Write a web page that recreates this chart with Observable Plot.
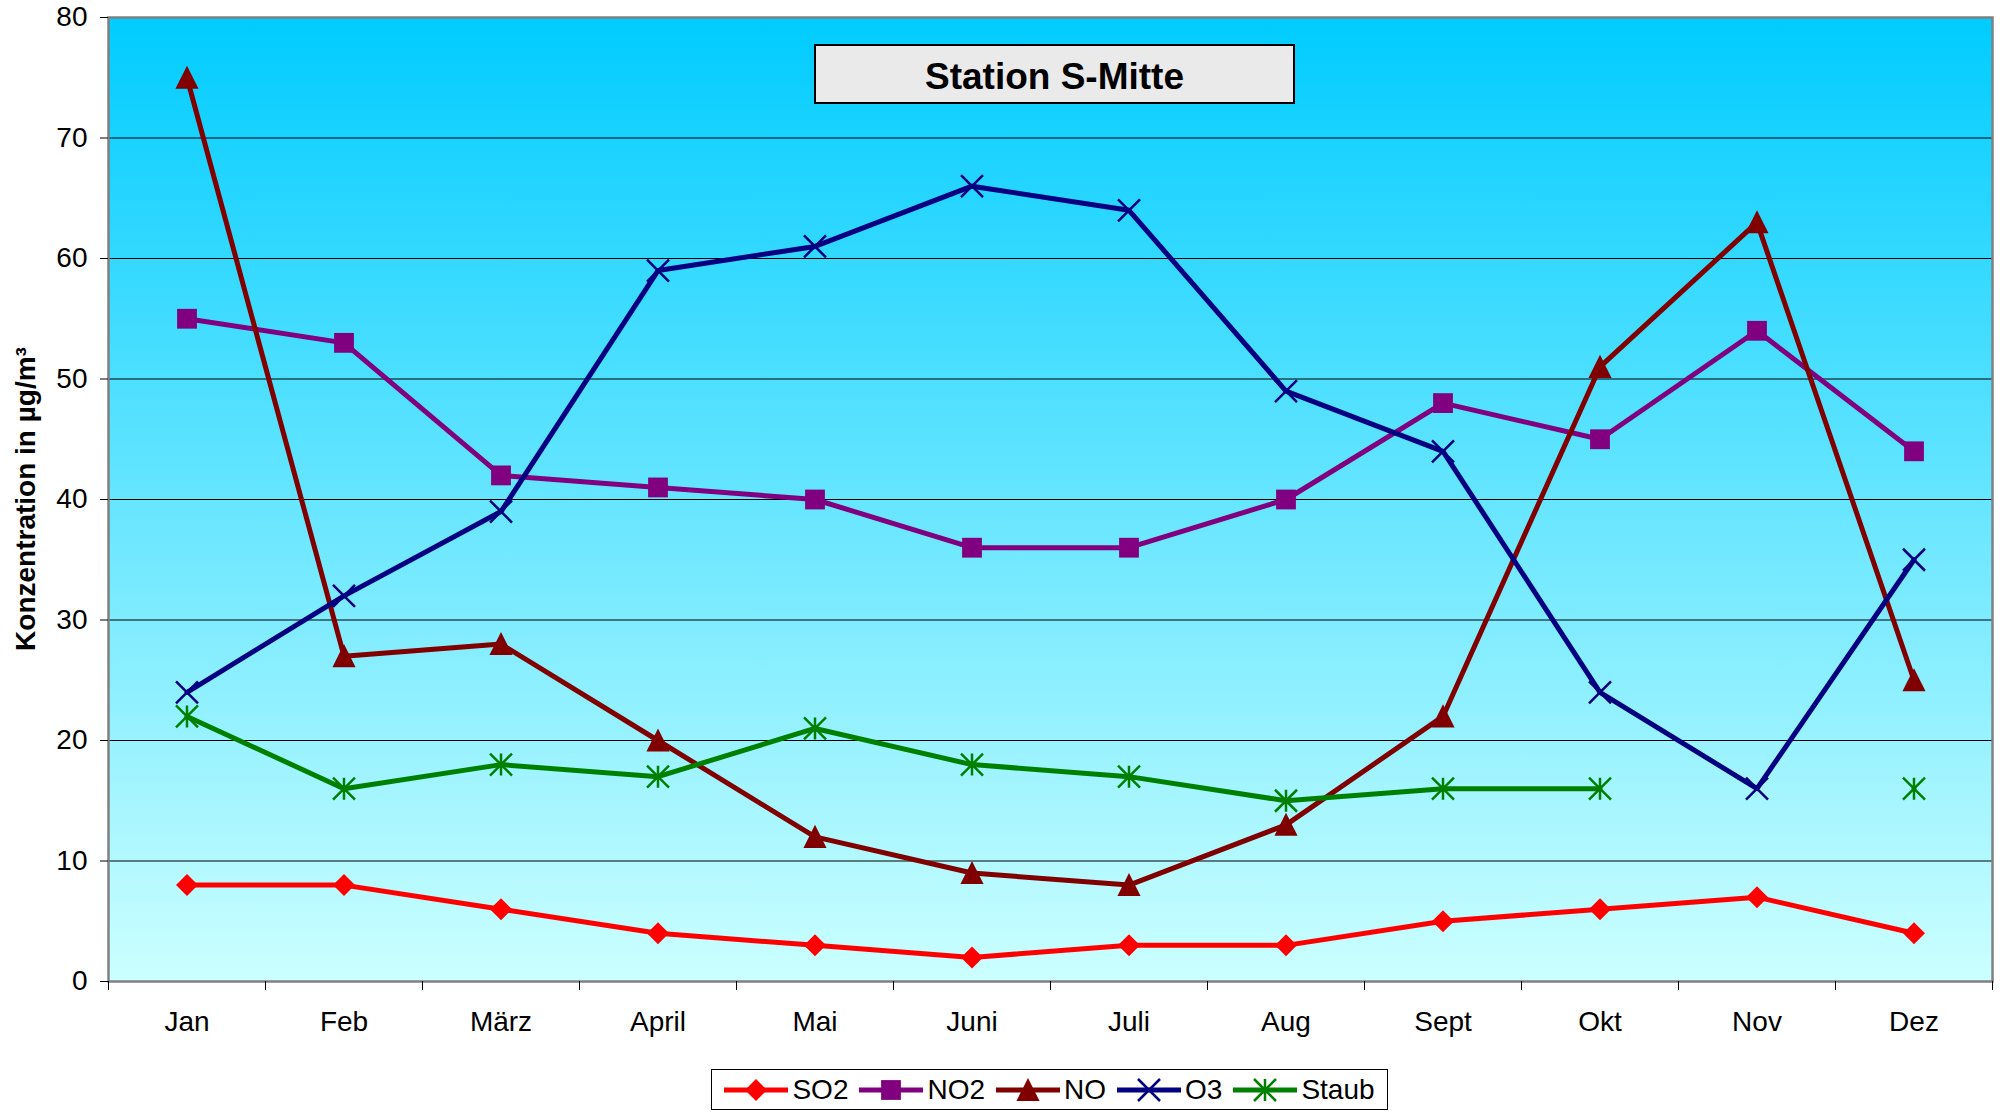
<!DOCTYPE html>
<html><head><meta charset="utf-8">
<script src="https://cdn.jsdelivr.net/npm/d3@7"></script>
<script src="https://cdn.jsdelivr.net/npm/@observablehq/plot@0.6"></script>
<style>
body{margin:0;background:#fff;font-family:"Liberation Sans",Arial,sans-serif;}
#wrap{position:relative;width:2000px;height:1112px;overflow:hidden;background:#fff;}
#title{position:absolute;left:814px;top:44px;width:477px;height:56px;box-sizing:content-box;background:#eaeaea;border:2px solid #000;font-weight:bold;font-size:37px;display:flex;align-items:center;justify-content:center;}
#title span{position:relative;top:3px;}
#ylabel{position:absolute;left:26px;top:499px;transform:translate(-50%,-50%) rotate(-90deg);font-weight:bold;font-size:28px;white-space:nowrap;}
#legend{position:absolute;left:711px;top:1069px;width:675px;height:39px;border:1.5px solid #000;background:#fff;display:flex;align-items:center;justify-content:center;gap:11px;font-size:28px;}
.item{display:flex;align-items:center;gap:4px;}
.item svg{display:block;}
</style></head>
<body><div id="wrap"><div id="chart"></div><div id="title"><span>Station S-Mitte</span></div><div id="ylabel">Konzentration in µg/m³</div><div id="legend"></div></div>
<script>
const months = ["Jan","Feb","März","April","Mai","Juni","Juli","Aug","Sept","Okt","Nov","Dez"];
const so2   = [8, 8, 6, 4, 3, 2, 3, 3, 5, 6, 7, 4];
const no2   = [55, 53, 42, 41, 40, 36, 36, 40, 48, 45, 54, 44];
const no    = [75, 27, 28, 20, 12, 9, 8, 13, 22, 51, 63, 25];
const o3    = [24, 32, 39, 59, 61, 66, 64, 49, 44, 24, 16, 35];
const staub = [22, 16, 18, 17, 21, 18, 17, 15, 16, 16, null, 16];
const yTicks = [0, 10, 20, 30, 40, 50, 60, 70, 80];

const rad = s => Math.sqrt(s / Math.PI);
const symDiamond = {draw(c, s){const r = rad(s); c.moveTo(0,-r); c.lineTo(r,0); c.lineTo(0,r); c.lineTo(-r,0); c.closePath();}};
const symSquare = {draw(c, s){const r = rad(s)*0.9; c.moveTo(-r,-r); c.lineTo(r,-r); c.lineTo(r,r); c.lineTo(-r,r); c.closePath();}};
const symTriangle = {draw(c, s){const r = rad(s); c.moveTo(0,-r*1.1); c.lineTo(r*1.05,r); c.lineTo(-r*1.05,r); c.closePath();}};
const symTimes = {draw(c, s){const r = rad(s); c.moveTo(-r,-r); c.lineTo(r,r); c.moveTo(-r,r); c.lineTo(r,-r);}};
const symAsterisk = {draw(c, s){const r = rad(s); c.moveTo(-r,-r); c.lineTo(r,r); c.moveTo(-r,r); c.lineTo(r,-r); c.moveTo(0,-r); c.lineTo(0,r);}};

const series = [
  {name:"SO2",   values:so2,   color:"#FF0000", symbol:symDiamond,  filled:true,  lw:5},
  {name:"NO2",   values:no2,   color:"#800080", symbol:symSquare,   filled:true,  lw:5},
  {name:"NO",    values:no,    color:"#800000", symbol:symTriangle, filled:true,  lw:5},
  {name:"O3",    values:o3,    color:"#000080", symbol:symTimes,    filled:false, lw:5},
  {name:"Staub", values:staub, color:"#008000", symbol:symAsterisk, filled:false, lw:5}
];

const rows = series.flatMap(s => months.map((m, i) => ({series: s.name, i: i + 1, month: m, value: s.values[i]})));

const marks = [
  Plot.frame({fill: "url(#bg)", stroke: null}),
  Plot.gridY(yTicks.filter(v => v > 0 && v < 80), {stroke: "#000", strokeOpacity: 1, strokeWidth: 1}),
  Plot.frame({stroke: "#808080", strokeWidth: 2.5}),
  Plot.axisY(yTicks, {tickSize: 8, tickPadding: 13, fontSize: 28, label: null}),
  Plot.axisX(d3.range(0.5, months.length + 1, 1), {tickSize: 9, tickFormat: () => "", label: null}),
  Plot.axisX(d3.range(1, months.length + 1), {tickSize: 0, tickPadding: 30, fontSize: 28, tickFormat: i => months[i - 1], label: null})
];
for (const s of series) {
  const d = rows.filter(r => r.series === s.name);
  marks.push(Plot.line(d, {x: "i", y: "value", stroke: s.color, strokeWidth: s.lw, strokeLinejoin: "round"}));
  marks.push(Plot.dot(d.filter(r => r.value != null), {
    x: "i", y: "value", symbol: s.symbol, r: 11,
    fill: s.filled ? s.color : "none", stroke: s.filled ? "none" : s.color, strokeWidth: s.filled ? 0 : 2.5
  }));
}

const chart = Plot.plot({
  width: 2000, height: 1050,
  marginLeft: 108, marginRight: 8, marginTop: 17, marginBottom: 69,
  x: {type: "linear", domain: [0.5, months.length + 0.5], label: null},
  y: {domain: [0, 80], label: null},
  style: {fontFamily: "'Liberation Sans', Arial, sans-serif", fontSize: "28px", background: "transparent", color: "#000", overflow: "visible"},
  marks
});

const defs = d3.select(chart).insert("defs", ":first-child");
const grad = defs.append("linearGradient").attr("id", "bg").attr("x1", 0).attr("y1", 0).attr("x2", 0).attr("y2", 1);
grad.append("stop").attr("offset", "0%").attr("stop-color", "#00CCFF");
grad.append("stop").attr("offset", "100%").attr("stop-color", "#CCFFFF");
document.getElementById("chart").appendChild(chart);

// legend
const leg = d3.select("#legend");
for (const s of series) {
  const it = leg.append("div").attr("class", "item");
  const sv = it.append("svg").attr("width", 64).attr("height", 30);
  sv.append("line").attr("x1", 0).attr("x2", 64).attr("y1", 15).attr("y2", 15).attr("stroke", s.color).attr("stroke-width", s.lw);
  sv.append("path").attr("transform", "translate(32,15)")
    .attr("d", d3.symbol(s.symbol, Math.PI * 11 * 11)())
    .attr("fill", s.filled ? s.color : "none").attr("stroke", s.filled ? "none" : s.color).attr("stroke-width", s.filled ? 0 : 2.5);
  it.append("span").text(s.name);
}
</script>
</body></html>
